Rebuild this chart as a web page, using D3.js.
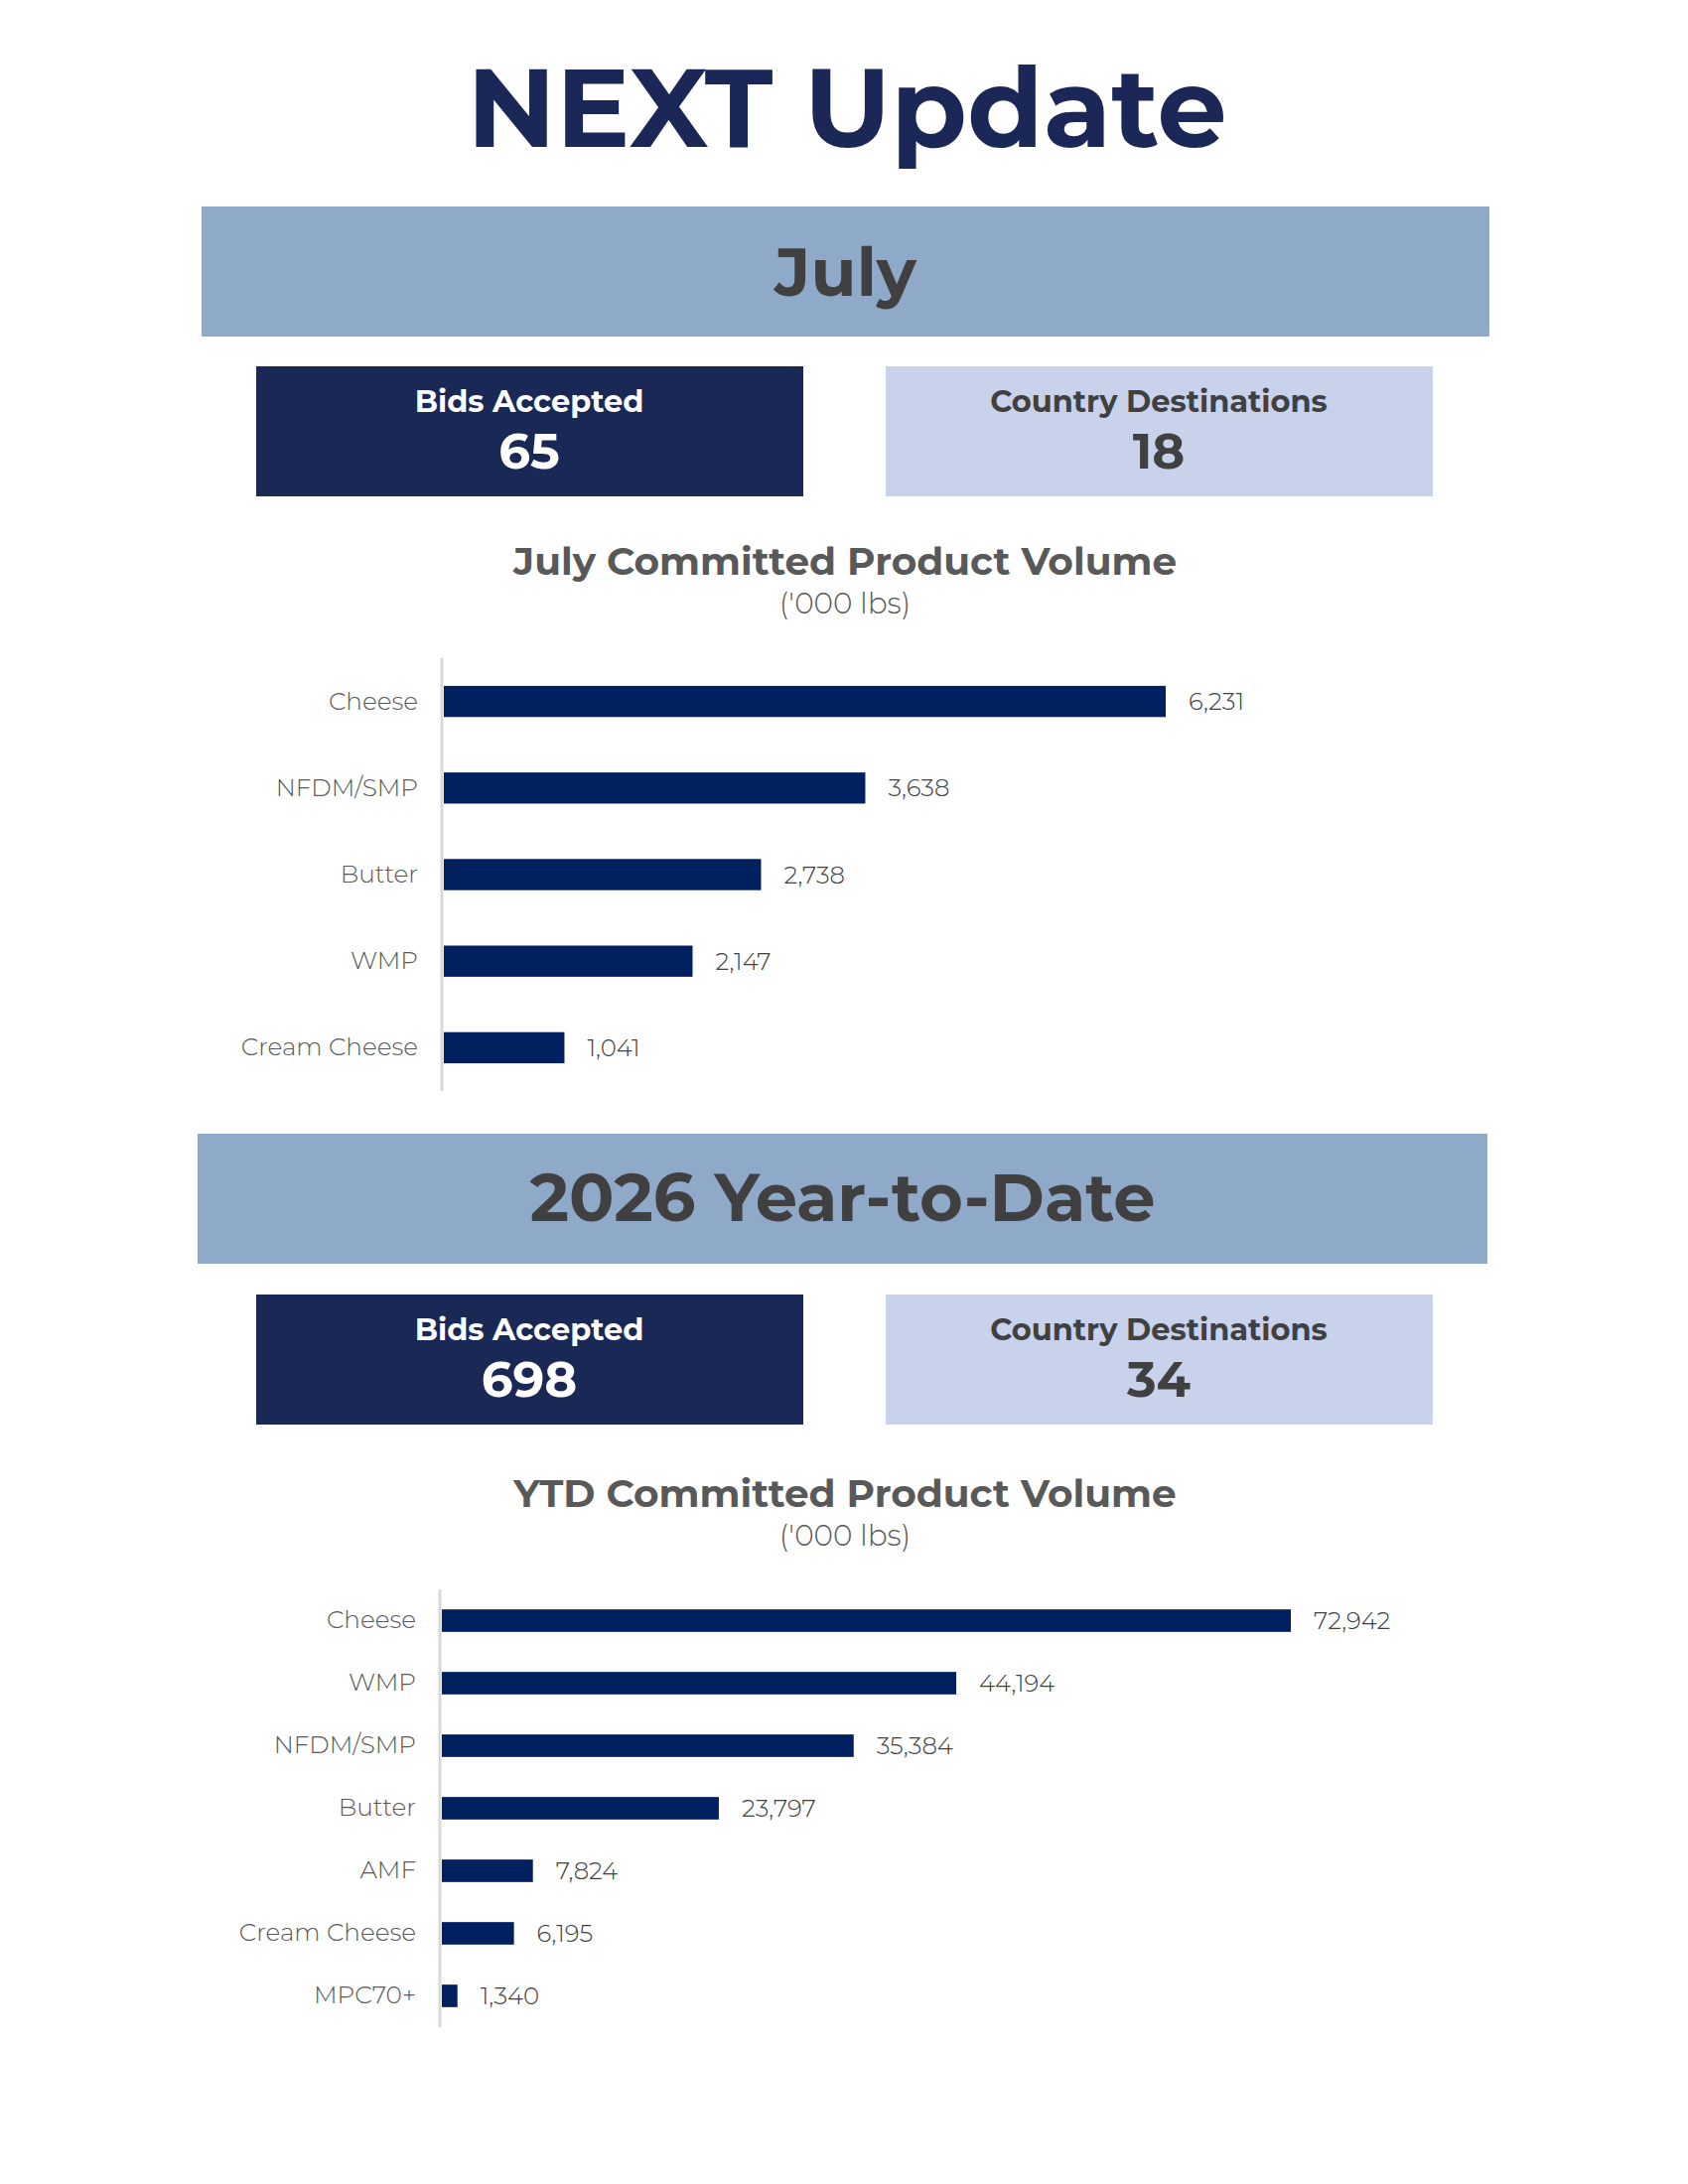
<!DOCTYPE html>
<html>
<head>
<meta charset="utf-8">
<script src="https://cdn.jsdelivr.net/npm/d3@7"></script>
<style>
  body { margin: 0; background: #fff; overflow: hidden; }
  svg { display: block; }
  svg text { font-family: "Montserrat", "Inter", "Noto Sans", sans-serif; }
</style>
</head>
<body>
<svg width="1700" height="2200"></svg>
<script>
// Data
const julyProducts = ["Cheese", "NFDM/SMP", "Butter", "WMP", "Cream Cheese"];
const julyVolumes = [6231, 3638, 2738, 2147, 1041];

const ytdProducts = ["Cheese", "WMP", "NFDM/SMP", "Butter", "AMF", "Cream Cheese", "MPC70+"];
const ytdVolumes = [72942, 44194, 35384, 23797, 7824, 6195, 1340];

const statLabels = ["Bids Accepted", "Country Destinations"];
const julyStats = [65, 18];
const ytdStats = [698, 34];

const svg = d3.select("svg");
const cx = 851;
const fmt = d3.format(",");

// Page title
svg.append("text")
  .attr("x", 853).attr("y", 148)
  .attr("text-anchor", "middle")
  .attr("font-size", 111).attr("font-weight", 700)
  .attr("fill", "#1b2857")
  .text("NEXT Update");

// Banner with section name
const banner = (x, y, w, h, label, shift) => {
  svg.append("rect").attr("x", x).attr("y", y).attr("width", w).attr("height", h)
    .attr("fill", "#8faac9");
  svg.append("text")
    .attr("x", x + w / 2).attr("y", y + h / 2 + shift)
    .attr("text-anchor", "middle")
    .attr("font-size", 67).attr("font-weight", 700)
    .attr("fill", "#404040")
    .text(label);
};

// Two stat boxes
const statBoxes = (y, values) => {
  const boxX = [258, 892];
  const fills = ["#1a2856", "#c8d2eb"];
  const inks = ["#ffffff", "#404040"];
  statLabels.forEach((lab, i) => {
    svg.append("rect").attr("x", boxX[i]).attr("y", y)
      .attr("width", 551).attr("height", 131).attr("fill", fills[i]);
    svg.append("text")
      .attr("x", boxX[i] + 275).attr("y", y + 46)
      .attr("text-anchor", "middle")
      .attr("font-size", 30.5).attr("font-weight", 700)
      .attr("fill", inks[i])
      .text(lab);
    svg.append("text")
      .attr("x", boxX[i] + 275).attr("y", y + 103)
      .attr("text-anchor", "middle")
      .attr("font-size", 50).attr("font-weight", 700)
      .attr("fill", inks[i])
      .text(values[i]);
  });
};

// Horizontal bar chart
const barChart = (opts) => {
  const { products, volumes, title, titleY, subY, axisX, top, bottom, maxW } = opts;

  svg.append("text")
    .attr("x", cx).attr("y", titleY)
    .attr("text-anchor", "middle")
    .attr("font-size", 39).attr("font-weight", 700)
    .attr("fill", "#595959")
    .text(title);
  svg.append("text")
    .attr("x", cx).attr("y", subY)
    .attr("text-anchor", "middle")
    .attr("font-size", 29.5).attr("font-weight", 300)
    .attr("fill", "#595959")
    .text("('000 lbs)");

  const yScale = d3.scaleBand()
    .domain(products)
    .range([top, bottom])
    .paddingInner(0.64)
    .paddingOuter(0.32);

  const xScale = d3.scaleLinear()
    .domain([0, d3.max(volumes)])
    .range([0, maxW]);

  const g = svg.append("g").attr("transform", `translate(${axisX},0)`);

  g.selectAll("rect.bar")
    .data(products)
    .enter()
    .append("rect")
    .attr("class", "bar")
    .attr("x", 2)
    .attr("y", (d) => yScale(d))
    .attr("width", (d, i) => xScale(volumes[i]))
    .attr("height", yScale.bandwidth())
    .attr("fill", "#002060");

  g.selectAll("text.val")
    .data(products)
    .enter()
    .append("text")
    .attr("class", "val")
    .attr("x", (d, i) => xScale(volumes[i]) + 25)
    .attr("y", (d) => yScale(d) + yScale.bandwidth() / 2)
    .attr("dy", "0.35em")
    .attr("font-size", 24.4).attr("font-weight", 300)
    .attr("fill", "#404040")
    .text((d, i) => fmt(volumes[i]));

  const yAxis = d3.axisLeft(yScale).tickSize(0).tickPadding(24);
  const yAxisG = g.append("g").call(yAxis);
  yAxisG.select(".domain").remove();
  yAxisG.selectAll("text")
    .attr("font-size", 24.7)
    .attr("font-weight", 300)
    .attr("font-family", null)
    .attr("fill", "#595959");

  g.append("line")
    .attr("x1", 0).attr("x2", 0)
    .attr("y1", top).attr("y2", bottom)
    .attr("stroke", "#d9d9d9").attr("stroke-width", 3);
};

banner(203, 208, 1297, 131, "July", 24);
statBoxes(369, julyStats);
barChart({
  products: julyProducts, volumes: julyVolumes,
  title: "July Committed Product Volume", titleY: 579, subY: 618,
  axisX: 445, top: 663, bottom: 1099, maxW: 727
});

banner(199, 1142, 1299, 131, "2026 Year-to-Date", 22);
statBoxes(1304, ytdStats);
barChart({
  products: ytdProducts, volumes: ytdVolumes,
  title: "YTD Committed Product Volume", titleY: 1518, subY: 1557,
  axisX: 443, top: 1601, bottom: 2042, maxW: 855
});
</script>
</body>
</html>
